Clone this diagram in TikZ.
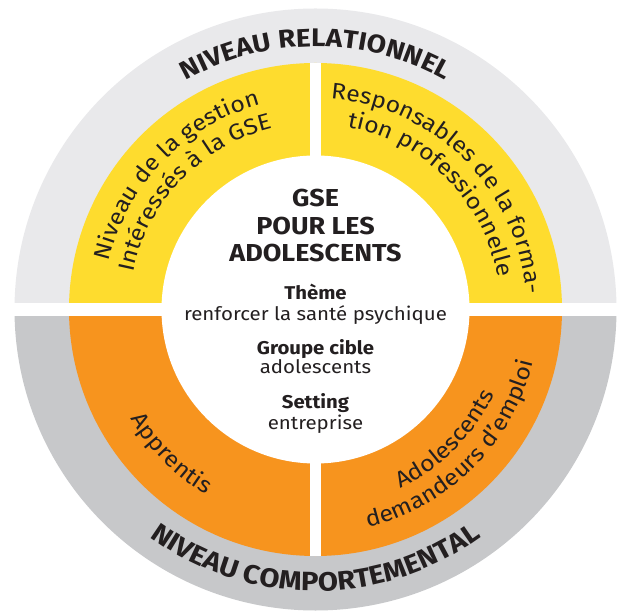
\documentclass[tikz,border=0pt]{standalone}
\usepackage{fontspec}
\setmainfont{Fira Sans}[FakeStretch=1.1]
\usetikzlibrary{decorations.text}
\definecolor{greyA}{RGB}{233,233,235}
\definecolor{greyB}{RGB}{199,200,202}
\definecolor{yel}{RGB}{254,220,46}
\definecolor{org}{RGB}{247,148,30}
\definecolor{ink}{RGB}{35,31,32}
\newcommand\ttlfnt{\fontsize{25.5}{25.5}\selectfont\bfseries}
\newcommand\ttlbfnt{\fontsize{26.5}{26.5}\selectfont\bfseries}
\newcommand\ringfnt{\fontsize{22.5}{22.5}\selectfont}
\newcommand\bigfnt{\fontsize{24.5}{24.5}\selectfont\bfseries}
\newcommand\subbfnt{\fontsize{18.5}{18.5}\selectfont\bfseries}
\newcommand\subfnt{\fontsize{18.6}{18.6}\selectfont}
\tikzset{
  arctext/.style={decorate,decoration={text along path,text align=center,text color=ink,text={#1}}},
  ctext/.style={anchor=base,inner sep=0pt,text=ink}
}
\begin{document}
\begin{tikzpicture}[x=1pt,y=1pt]
\useasboundingbox (0,0) rectangle (617,610);
\begin{scope}[shift={(315.5,300.5)}]
  % rings
  \fill[greyA] (0:301) arc[start angle=0,end angle=180,radius=301] -- cycle;
  \fill[greyB] (180:301) arc[start angle=180,end angle=360,radius=301] -- cycle;
  \fill[yel] (0:246.5) arc[start angle=0,end angle=180,radius=246.5] -- cycle;
  \fill[org] (180:246.5) arc[start angle=180,end angle=360,radius=246.5] -- cycle;
  \fill[white] (-320,-6.6) rectangle (320,6.6);
  \begin{scope}
    \clip (0,0) circle[radius=246.5];
    \fill[white] (-5.5,-250) rectangle (5.5,250);
  \end{scope}
  \fill[white] (0,0) circle[radius=154];
  % titles on the outer ring
  \path[arctext={|\ttlfnt|NIVEAU RELATIONNEL}] (150:263) arc[start angle=150,end angle=30,radius=263];
  \path[arctext={|\ttlbfnt|NIVEAU COMPORTEMENTAL}] (200:281.5) arc[start angle=200,end angle=340,radius=281.5];
  % ring texts
  \path[arctext={|\ringfnt|Niveau de la gestion}] (191:212) arc[start angle=191,end angle=81,radius=212];
  \path[arctext={|\ringfnt|Intéressés à la GSE}] (191:186) arc[start angle=191,end angle=81,radius=186];
  \path[arctext={|\ringfnt|Responsables de la forma-}] (100:211) arc[start angle=100,end angle=-10,radius=211];
  \path[arctext={|\ringfnt|tion professionnelle}] (100:185) arc[start angle=100,end angle=-10,radius=185];
  \path[arctext={|\ringfnt|Apprentis}] (175:215) arc[start angle=175,end angle=275,radius=215];
  \path[arctext={|\ringfnt|Adolescents}] (260:198) arc[start angle=260,end angle=370,radius=198];
  \path[arctext={|\ringfnt|demandeurs d’emploi}] (260:224) arc[start angle=260,end angle=370,radius=224];
  % centre
  \node[ctext,font=\bigfnt] (t1) at (0,102.5) {GSE};
  \node[ctext,font=\bigfnt] (t2) at (0,74.5) {POUR LES};
  \node[ctext,font=\bigfnt] (t3) at (0,47.5) {ADOLESCENTS};
  \node[ctext,font=\subbfnt] (h1) at (0,10) {Thème};
  \node[ctext,font=\subfnt] (v1) at (0,-11.5) {renforcer la santé psychique};
  \node[ctext,font=\subbfnt] (h2) at (0,-45) {Groupe cible};
  \node[ctext,font=\subfnt] (v2) at (0,-64.5) {adolescents};
  \node[ctext,font=\subbfnt] (h3) at (0,-99.5) {Setting};
  \node[ctext,font=\subfnt] (v3) at (0,-119.5) {entreprise};
\end{scope}
\end{tikzpicture}
\end{document}
